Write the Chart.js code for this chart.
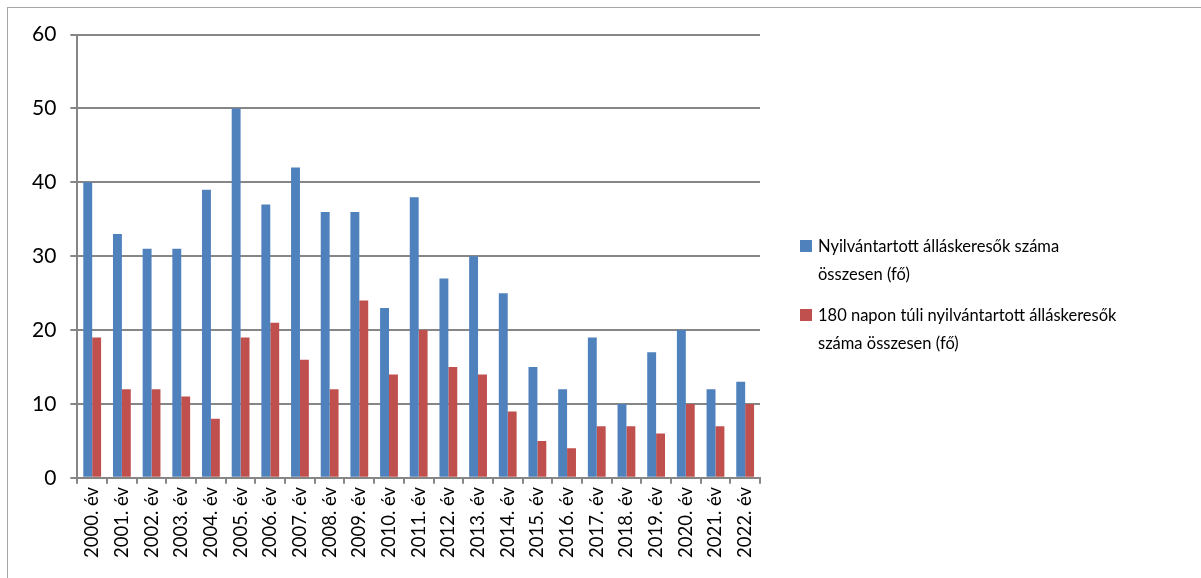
<!DOCTYPE html>
<html>
<head>
<meta charset="utf-8">
<script src="https://cdn.jsdelivr.net/npm/chart.js@4"></script>
<style>
  html, body { margin: 0; padding: 0; background: #fff; }
  body { width: 1201px; height: 578px; position: relative; overflow: hidden; font-family: Lato, "Open Sans", sans-serif; }
  #frame { position: absolute; left: 7px; top: 7px; width: 1300px; height: 700px; border: 1px solid #a6a6a6; box-sizing: border-box; }
  #wrap { position: absolute; left: 8px; top: 8px; width: 1193px; height: 570px; }
  #legend { position: absolute; left: 800px; top: 232px; font-size: 16.5px; line-height: 28px; color: #000; }
  .item { position: relative; padding-left: 18px; margin-bottom: 13px; }
  .box { position: absolute; left: 0; top: 8px; width: 12px; height: 12px; }
</style>
</head>
<body>
<div id="frame"></div>
<div id="wrap"><canvas id="chart"></canvas></div>
<div id="legend"></div>
<script>
const years = ['2000. év', '2001. év', '2002. év', '2003. év', '2004. év', '2005. év', '2006. év', '2007. év',
  '2008. év', '2009. év', '2010. év', '2011. év', '2012. év', '2013. év', '2014. év', '2015. év',
  '2016. év', '2017. év', '2018. év', '2019. év', '2020. év', '2021. év', '2022. év'];
const totalSeekers = [40, 33, 31, 31, 39, 50, 37, 42, 36, 36, 23, 38, 27, 30, 25, 15, 12, 19, 10, 17, 20, 12, 13];
const longTermSeekers = [19, 12, 12, 11, 8, 19, 21, 16, 12, 24, 14, 20, 15, 14, 9, 5, 4, 7, 7, 6, 10, 7, 10];
const seriesNames = ['Nyilvántartott álláskeresők száma összesen (fő)', '180 napon túli nyilvántartott álláskeresők száma összesen (fő)'];
const legendLines = [['Nyilvántartott álláskeresők száma', 'összesen (fő)'], ['180 napon túli nyilvántartott álláskeresők', 'száma összesen (fő)']];
const colors = ['#4f81bd', '#c0504d'];

const legendEl = document.getElementById('legend');
legendLines.forEach((lines, i) => {
  const div = document.createElement('div');
  div.className = 'item';
  div.innerHTML = '<span class="box" style="background:' + colors[i] + '"></span>' + lines.join('<br>');
  legendEl.appendChild(div);
});

const ctx = document.getElementById('chart').getContext('2d');
new Chart(ctx, {
  type: 'bar',
  data: {
    labels: years,
    datasets: [{
      label: seriesNames[0],
      data: totalSeekers,
      backgroundColor: colors[0],
    }, {
      label: seriesNames[1],
      data: longTermSeekers,
      backgroundColor: colors[1],
    }]
  },
  options: {
    responsive: true,
    maintainAspectRatio: false,
    animation: false,
    categoryPercentage: 0.6,
    barPercentage: 1.0,
    layout: {
      padding: { top: 22, right: 441, left: 10, bottom: 17 }
    },
    plugins: {
      legend: { display: false },
      tooltip: { enabled: false },
    },
    scales: {
      x: {
        grid: {
          drawOnChartArea: false,
          offset: true,
          color: '#868686',
          lineWidth: 2,
          tickLength: 6,
        },
        border: { color: '#868686', width: 2 },
        ticks: {
          minRotation: 90,
          maxRotation: 90,
          autoSkip: false,
          color: '#000',
          font: { family: 'Lato', size: 18.5 },
          padding: 3,
        },
      },
      y: {
        min: 0,
        max: 60,
        ticks: {
          stepSize: 10,
          color: '#000',
          font: { family: 'Lato', size: 21 },
          padding: 14,
        },
        grid: {
          color: '#868686',
          lineWidth: 2,
          tickLength: 7,
        },
        border: { color: '#868686', width: 2 },
      },
    },
  },
});
</script>
</body>
</html>
